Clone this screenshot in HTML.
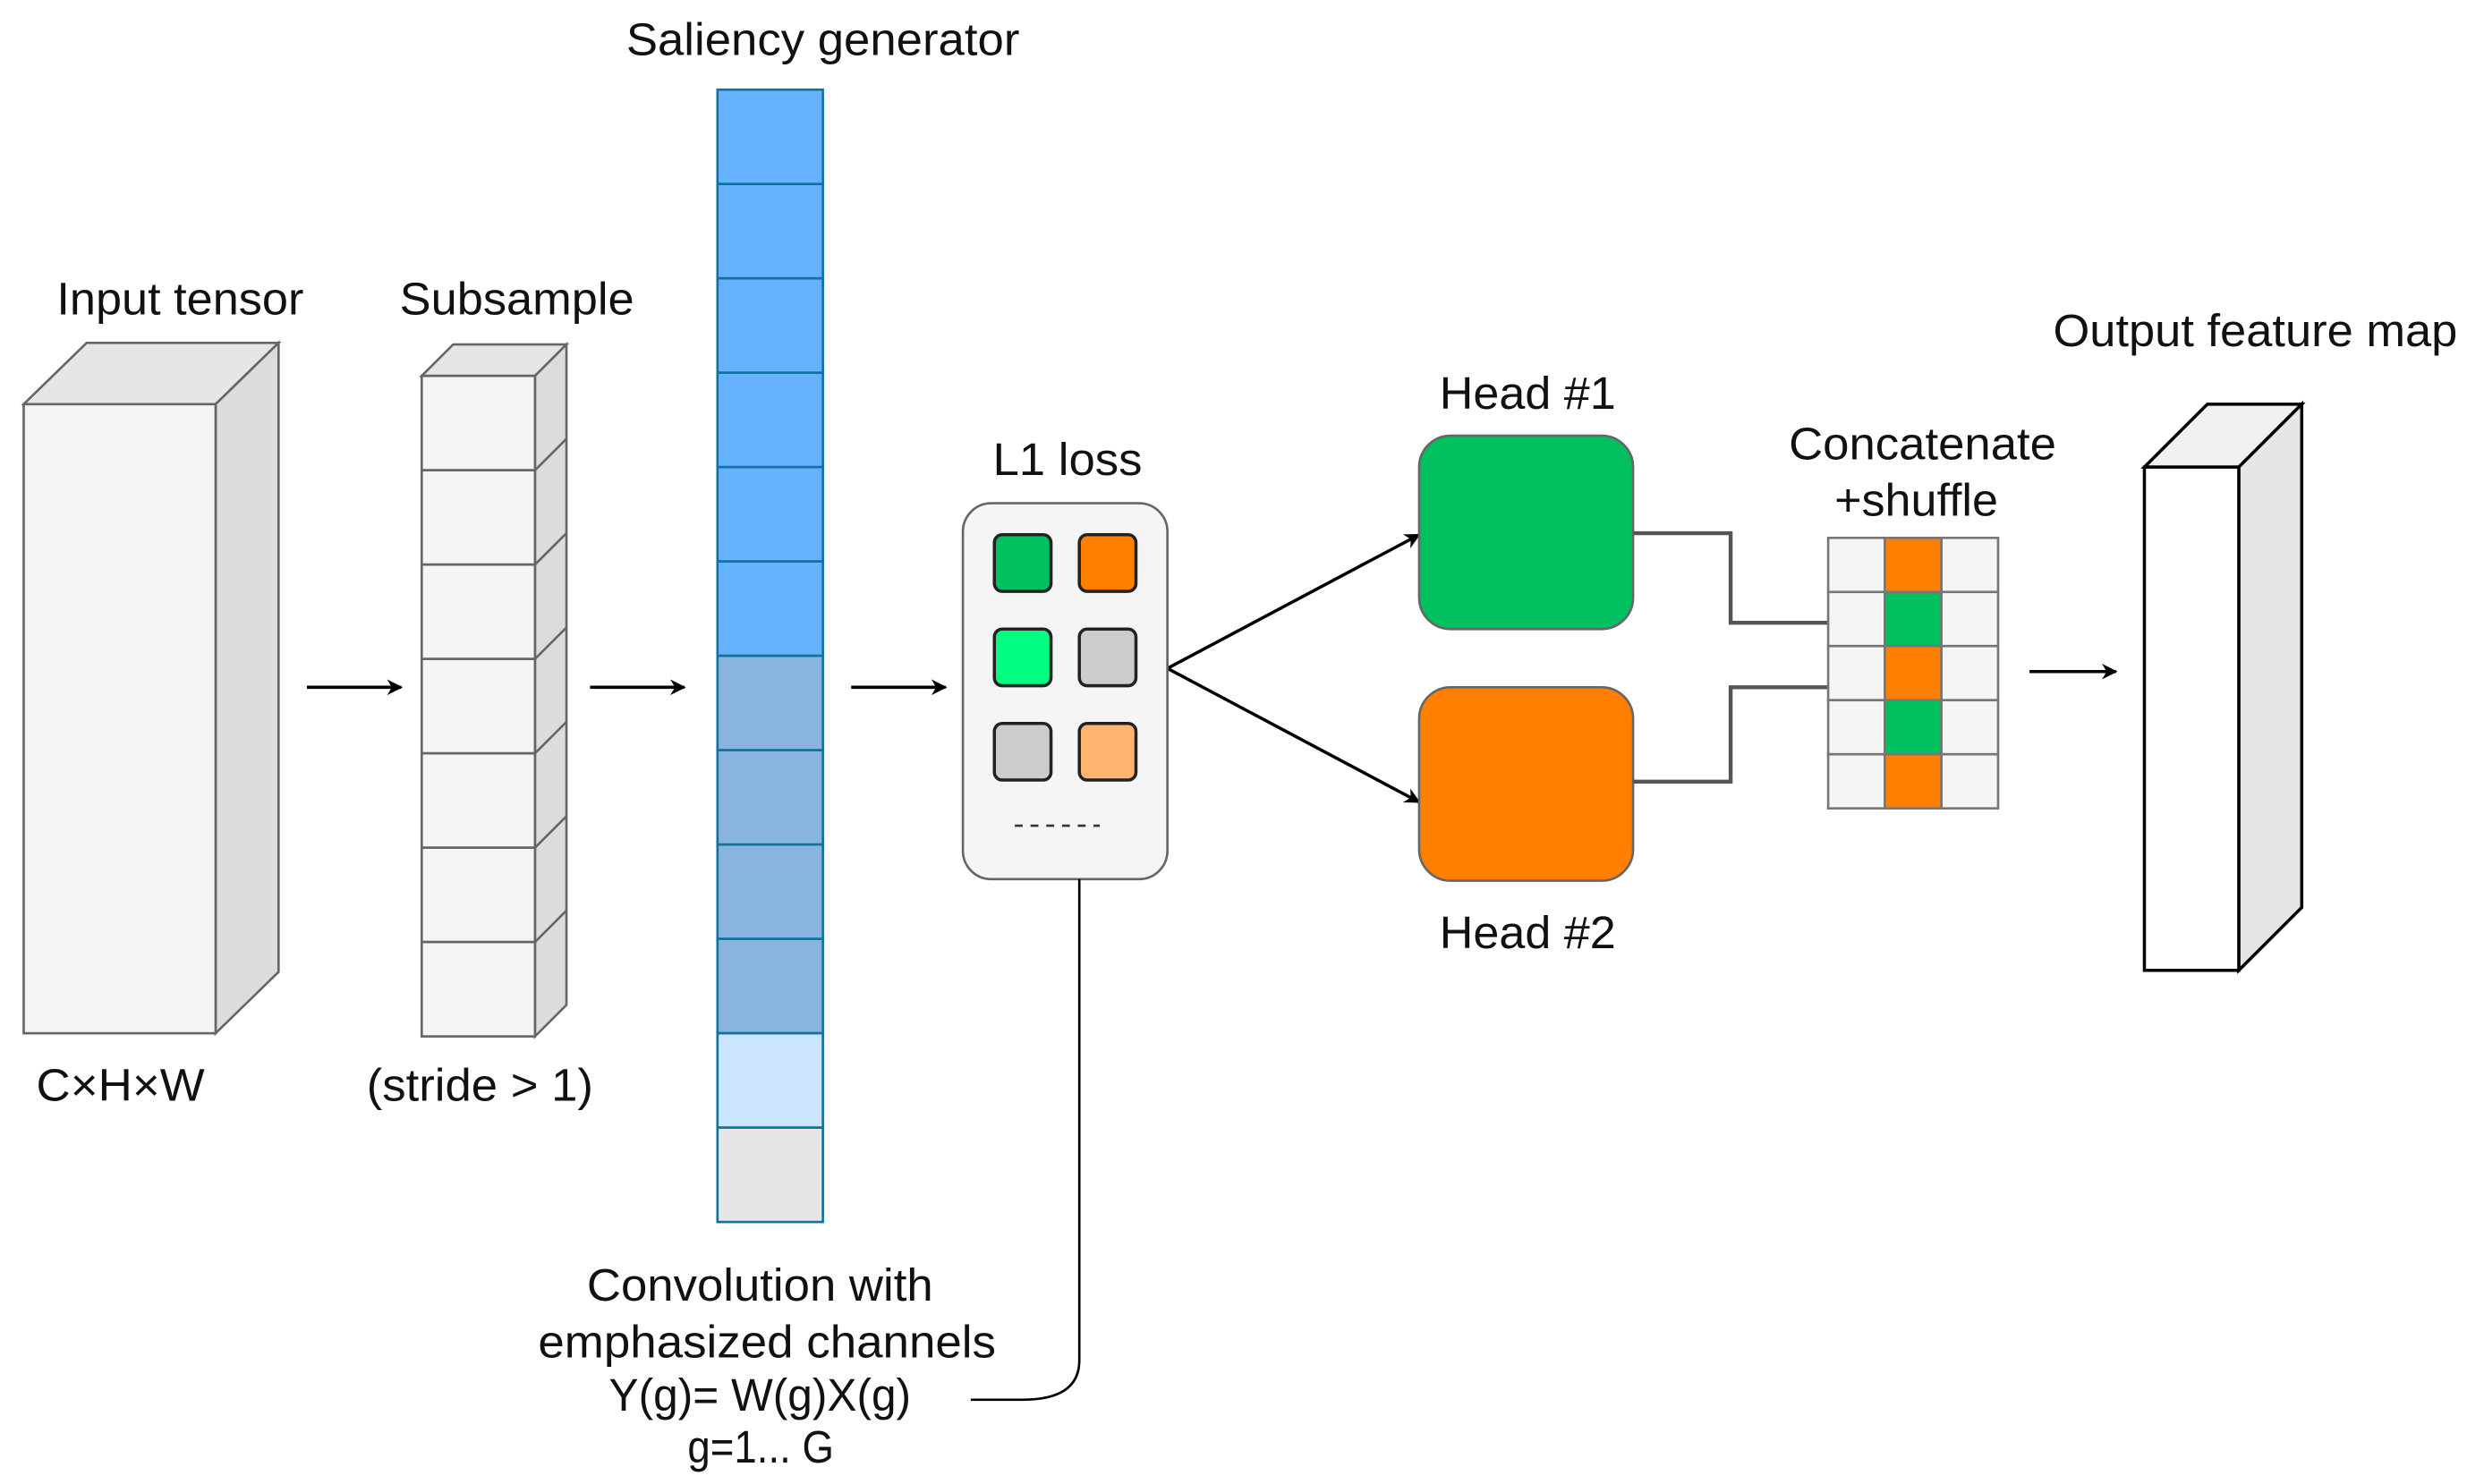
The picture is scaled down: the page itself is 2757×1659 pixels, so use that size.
<!DOCTYPE html>
<html><head><meta charset="utf-8"><style>
html,body{margin:0;padding:0;background:#fff;}
svg{display:block;}
text{font-family:"Liberation Sans",Arial,sans-serif;fill:#111;font-size:29px;}
</style></head><body>
<svg width="2757" height="1659" viewBox="0 0 1568 943.6" xmlns="http://www.w3.org/2000/svg">
<defs>
<marker id="ah" markerWidth="10" markerHeight="10" refX="9" refY="5" orient="auto" markerUnits="userSpaceOnUse">
<path d="M0,0 L10,5 L0,10 L3,5 Z" fill="#000"/></marker>
</defs>
<rect width="1568" height="944" fill="#fff"/>

<polygon points="15,257 55,218 177,218 137,257" fill="#e6e6e6" stroke="#666" stroke-width="1.5"/>
<polygon points="137,257 177,218 177,618 137,657" fill="#dcdcdc" stroke="#666" stroke-width="1.5"/>
<rect x="15" y="257" width="122" height="400" fill="#f5f5f5" stroke="#666" stroke-width="1.5"/>
<text x="36" y="200" textLength="157" lengthAdjust="spacingAndGlyphs">Input tensor</text>
<text x="23" y="700" textLength="107" lengthAdjust="spacingAndGlyphs">C×H×W</text>

<polygon points="268,239 288,219 360,219 340,239" fill="#e6e6e6" stroke="#666" stroke-width="1.5"/>
<polygon points="340,239 360,219 360,639 340,659" fill="#dcdcdc" stroke="#666" stroke-width="1.5"/>
<g fill="#f5f5f5" stroke="#666" stroke-width="1.5">
<rect x="268" y="239" width="72" height="60"/><rect x="268" y="299" width="72" height="60"/>
<rect x="268" y="359" width="72" height="60"/><rect x="268" y="419" width="72" height="60"/>
<rect x="268" y="479" width="72" height="60"/><rect x="268" y="539" width="72" height="60"/>
<rect x="268" y="599" width="72" height="60"/>
</g>
<g stroke="#666" stroke-width="1.5" fill="none">
<path d="M340,299 L360,279 M340,359 L360,339 M340,419 L360,399 M340,479 L360,459 M340,539 L360,519 M340,599 L360,579"/>
</g>
<text x="254" y="200" textLength="149" lengthAdjust="spacingAndGlyphs">Subsample</text>
<text x="233" y="700" textLength="144" lengthAdjust="spacingAndGlyphs">(stride &gt; 1)</text>

<g stroke="#000" stroke-width="2" marker-end="url(#ah)">
<line x1="195" y1="437" x2="255" y2="437"/>
<line x1="375" y1="437" x2="435" y2="437"/>
<line x1="541" y1="437" x2="601" y2="437"/>
<line x1="742" y1="425" x2="902" y2="340"/>
<line x1="742" y1="425" x2="902" y2="510"/>
<line x1="1290" y1="427" x2="1345" y2="427"/>
</g>

<g stroke="#10739e" stroke-width="1.5">
<rect x="456" y="57" width="67" height="60" fill="#66b2ff"/>
<rect x="456" y="117" width="67" height="60" fill="#66b2ff"/>
<rect x="456" y="177" width="67" height="60" fill="#66b2ff"/>
<rect x="456" y="237" width="67" height="60" fill="#66b2ff"/>
<rect x="456" y="297" width="67" height="60" fill="#66b2ff"/>
<rect x="456" y="357" width="67" height="60" fill="#66b2ff"/>
<rect x="456" y="417" width="67" height="60" fill="#8ab4e0"/>
<rect x="456" y="477" width="67" height="60" fill="#8ab4e0"/>
<rect x="456" y="537" width="67" height="60" fill="#8ab4e0"/>
<rect x="456" y="597" width="67" height="60" fill="#8ab4e0"/>
<rect x="456" y="657" width="67" height="60" fill="#cce5ff"/>
<rect x="456" y="717" width="67" height="60" fill="#e6e6e6"/>
</g>
<text x="398" y="35" textLength="250" lengthAdjust="spacingAndGlyphs">Saliency generator</text>

<rect x="612" y="320" width="130" height="239" rx="18" fill="#f5f5f5" stroke="#666" stroke-width="1.5"/>
<g stroke="#222" stroke-width="2">
<rect x="632" y="340" width="36" height="36" rx="5" fill="#00c060"/>
<rect x="686" y="340" width="36" height="36" rx="5" fill="#ff8000"/>
<rect x="632" y="400" width="36" height="36" rx="5" fill="#00ff80"/>
<rect x="686" y="400" width="36" height="36" rx="5" fill="#cccccc"/>
<rect x="632" y="460" width="36" height="36" rx="5" fill="#cccccc"/>
<rect x="686" y="460" width="36" height="36" rx="5" fill="#ffb570"/>
</g>
<line x1="645" y1="525" x2="699" y2="525" stroke="#333" stroke-width="1.5" stroke-dasharray="5,5"/>
<text x="631" y="302" textLength="95" lengthAdjust="spacingAndGlyphs">L1 loss</text>
<path d="M686,559 L686,865 Q686,890 650,890 L617,890" fill="none" stroke="#000" stroke-width="1.5"/>

<text x="373" y="827" textLength="220" lengthAdjust="spacingAndGlyphs">Convolution with</text>
<text x="342" y="863" textLength="291" lengthAdjust="spacingAndGlyphs">emphasized channels</text>
<text x="387" y="897" font-size="26" textLength="192" lengthAdjust="spacingAndGlyphs">Y(g)= W(g)X(g)</text>
<text x="437" y="930" font-size="26" textLength="93" lengthAdjust="spacingAndGlyphs">g=1... G</text>

<rect x="902" y="277" width="136" height="123" rx="20" fill="#00c060" stroke="#666" stroke-width="1.5"/>
<rect x="902" y="437" width="136" height="123" rx="20" fill="#ff8000" stroke="#666" stroke-width="1.5"/>
<text x="915" y="260" textLength="112" lengthAdjust="spacingAndGlyphs">Head #1</text>
<text x="915" y="603" textLength="112" lengthAdjust="spacingAndGlyphs">Head #2</text>
<path d="M1038,339 L1100,339 L1100,396 L1162,396" fill="none" stroke="#555" stroke-width="2.5"/>
<path d="M1038,497 L1100,497 L1100,437 L1162,437" fill="none" stroke="#555" stroke-width="2.5"/>

<g stroke="#777" stroke-width="1.5">
<rect x="1162" y="342" width="36" height="34.4" fill="#f5f5f5"/><rect x="1198" y="342" width="36" height="34.4" fill="#ff8000"/><rect x="1234" y="342" width="36" height="34.4" fill="#f5f5f5"/>
<rect x="1162" y="376.4" width="36" height="34.4" fill="#f5f5f5"/><rect x="1198" y="376.4" width="36" height="34.4" fill="#00c060"/><rect x="1234" y="376.4" width="36" height="34.4" fill="#f5f5f5"/>
<rect x="1162" y="410.8" width="36" height="34.4" fill="#f5f5f5"/><rect x="1198" y="410.8" width="36" height="34.4" fill="#ff8000"/><rect x="1234" y="410.8" width="36" height="34.4" fill="#f5f5f5"/>
<rect x="1162" y="445.2" width="36" height="34.4" fill="#f5f5f5"/><rect x="1198" y="445.2" width="36" height="34.4" fill="#00c060"/><rect x="1234" y="445.2" width="36" height="34.4" fill="#f5f5f5"/>
<rect x="1162" y="479.6" width="36" height="34.4" fill="#f5f5f5"/><rect x="1198" y="479.6" width="36" height="34.4" fill="#ff8000"/><rect x="1234" y="479.6" width="36" height="34.4" fill="#f5f5f5"/>
</g>
<text x="1137" y="292" textLength="170" lengthAdjust="spacingAndGlyphs">Concatenate</text>
<text x="1166" y="328" textLength="104" lengthAdjust="spacingAndGlyphs">+shuffle</text>

<polygon points="1363,297 1403,257 1463,257 1423,297" fill="#f0f0f0" stroke="#000" stroke-width="2"/>
<polygon points="1423,297 1463,257 1463,577 1423,617" fill="#e6e6e6" stroke="#000" stroke-width="2"/>
<rect x="1363" y="297" width="60" height="320" fill="#fff" stroke="#000" stroke-width="2"/>
<text x="1305" y="220" textLength="257" lengthAdjust="spacingAndGlyphs">Output feature map</text>
</svg>
</body></html>
